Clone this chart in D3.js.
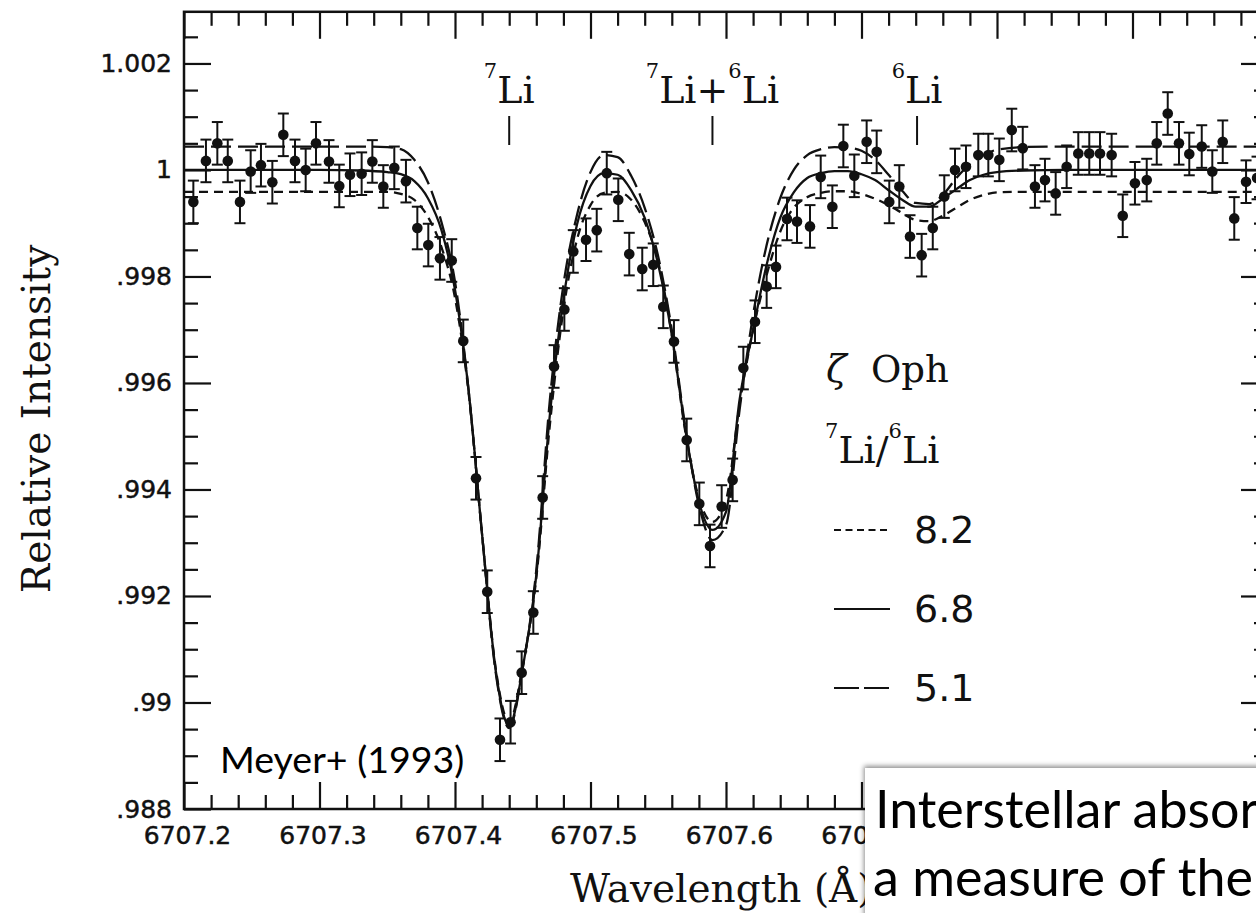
<!DOCTYPE html>
<html>
<head>
<meta charset="utf-8">
<script src="https://cdn.jsdelivr.net/npm/d3@7"></script>
<style>
  html, body { margin: 0; padding: 0; background: #fff; }
  svg { display: block; }
</style>
</head>
<body>
<svg id="chart" width="1256" height="913"></svg>
<script>
// ---- observed spectrum (zeta Oph, Li I 6708 region) ----
const obsWavelength = [
  6707.2069, 6707.2162, 6707.2246, 6707.2323, 6707.2413, 6707.2492, 6707.2568, 6707.2652,
  6707.2733, 6707.2819, 6707.2898, 6707.2974, 6707.3070, 6707.3146, 6707.3225, 6707.3311,
  6707.3390, 6707.3471, 6707.3552, 6707.3638, 6707.3722, 6707.3803, 6707.3889, 6707.3976,
  6707.4061, 6707.4155, 6707.4238, 6707.4332, 6707.4410, 6707.4492, 6707.4578, 6707.4647,
  6707.4731, 6707.4807, 6707.4873, 6707.4967, 6707.5046, 6707.5120, 6707.5205, 6707.5286,
  6707.5382, 6707.5463, 6707.5537, 6707.5616, 6707.5710, 6707.5803, 6707.5882, 6707.5968,
  6707.6049, 6707.6128, 6707.6214, 6707.6300, 6707.6369, 6707.6450, 6707.6524, 6707.6620,
  6707.6699, 6707.6785, 6707.6866, 6707.6947, 6707.7038, 6707.7112, 6707.7205, 6707.7279,
  6707.7358, 6707.7444, 6707.7526, 6707.7611, 6707.7690, 6707.7771, 6707.7862, 6707.7936,
  6707.8017, 6707.8109, 6707.8190, 6707.8280, 6707.8354, 6707.8433, 6707.8514, 6707.8600,
  6707.8681, 6707.8760, 6707.8846, 6707.8928, 6707.9018, 6707.9105, 6707.9179, 6707.9260,
  6707.9343, 6707.9419, 6707.9511, 6707.9589, 6707.9666, 6707.9751, 6707.9838, 6707.9919
];
const obsIntensity = [
  0.99940, 1.00017, 1.00050, 1.00017, 0.99940, 0.99997, 1.00009, 0.99977,
  1.00066, 1.00017, 1.00000, 1.00050, 1.00016, 0.99970, 0.99991, 0.99993,
  1.00016, 0.99969, 1.00004, 0.99979, 0.99891, 0.99859, 0.99834, 0.99830,
  0.99679, 0.99421, 0.99208, 0.98930, 0.98963, 0.99056, 0.99169, 0.99385,
  0.99631, 0.99738, 0.99847, 0.99869, 0.99887, 0.99994, 0.99944, 0.99842,
  0.99814, 0.99822, 0.99743, 0.99678, 0.99493, 0.99373, 0.99294, 0.99368,
  0.99418, 0.99628, 0.99715, 0.99781, 0.99818, 0.99908, 0.99903, 0.99894,
  0.99987, 0.99931, 1.00045, 0.99989, 1.00053, 1.00034, 0.99940, 0.99969,
  0.99875, 0.99840, 0.99891, 0.99950, 1.00000, 1.00006, 1.00028, 1.00028,
  1.00019, 1.00075, 1.00041, 0.99969, 0.99981, 0.99956, 1.00006, 1.00031,
  1.00031, 1.00031, 1.00028, 0.99914, 0.99975, 0.99981, 1.00050, 1.00106,
  1.00050, 1.00030, 1.00044, 0.99997, 1.00053, 0.99909, 0.99978, 0.99985
];
const obsError = [
  0.0004, 0.0004, 0.0004, 0.0004, 0.0004, 0.0004, 0.0004, 0.0004,
  0.0004, 0.0004, 0.0004, 0.0004, 0.0004, 0.0004, 0.0004, 0.0004,
  0.0004, 0.0004, 0.0004, 0.0004, 0.0004, 0.0004, 0.0004, 0.0004,
  0.0004, 0.0004, 0.0004, 0.0004, 0.0004, 0.0004, 0.0004, 0.0004,
  0.0004, 0.0004, 0.0004, 0.0004, 0.0004, 0.0004, 0.0004, 0.0004,
  0.0004, 0.0004, 0.0004, 0.0004, 0.0004, 0.0004, 0.0004, 0.0004,
  0.0004, 0.0004, 0.0004, 0.0004, 0.0004, 0.0004, 0.0004, 0.0004,
  0.0004, 0.0004, 0.0004, 0.0004, 0.0004, 0.0004, 0.0004, 0.0004,
  0.0004, 0.0004, 0.0004, 0.0004, 0.0004, 0.0004, 0.0004, 0.0004,
  0.0004, 0.0004, 0.0004, 0.0004, 0.0004, 0.0004, 0.0004, 0.0004,
  0.0004, 0.0004, 0.0004, 0.0004, 0.0004, 0.0004, 0.0004, 0.0004,
  0.0004, 0.0004, 0.0004, 0.0004, 0.0004, 0.0004, 0.0004, 0.0004
];

// ---- synthetic profiles for three 7Li/6Li ratios ----
const modelWavelength = [
  6707.20, 6707.25, 6707.30, 6707.33, 6707.35, 6707.36, 6707.37, 6707.38, 6707.39, 6707.40,
  6707.41, 6707.42, 6707.43, 6707.44, 6707.45, 6707.46, 6707.47, 6707.48, 6707.49, 6707.50,
  6707.51, 6707.52, 6707.53, 6707.54, 6707.55, 6707.56, 6707.57, 6707.58, 6707.59, 6707.60,
  6707.61, 6707.62, 6707.63, 6707.64, 6707.65, 6707.66, 6707.67, 6707.68, 6707.69, 6707.70,
  6707.71, 6707.72, 6707.73, 6707.74, 6707.75, 6707.76, 6707.77, 6707.78, 6707.79, 6707.80,
  6707.82, 6707.85, 6707.90, 6708.00
];
const ratio82 = [
  0.99959, 0.99959, 0.99959, 0.99959, 0.99959, 0.99955, 0.99944, 0.99912, 0.99855, 0.99760,
  0.99583, 0.99315, 0.99065, 0.98963, 0.99069, 0.99234, 0.99521, 0.99737, 0.99869, 0.99934,
  0.99957, 0.99959, 0.99944, 0.99902, 0.99827, 0.99690, 0.99508, 0.99384, 0.99339, 0.99380,
  0.99559, 0.99700, 0.99803, 0.99884, 0.99929, 0.99949, 0.99957, 0.99960, 0.99960, 0.99955,
  0.99946, 0.99934, 0.99919, 0.99906, 0.99904, 0.99914, 0.99929, 0.99944, 0.99953, 0.99958,
  0.99959, 0.99959, 0.99959, 0.99959
];
const ratio68 = [
  1.00000, 1.00000, 1.00000, 0.99999, 0.99996, 0.99992, 0.99979, 0.99947, 0.99887, 0.99775,
  0.99587, 0.99315, 0.99061, 0.98956, 0.99065, 0.99239, 0.99540, 0.99756, 0.99897, 0.99970,
  0.99994, 0.99991, 0.99962, 0.99910, 0.99822, 0.99690, 0.99512, 0.99377, 0.99324, 0.99358,
  0.99568, 0.99700, 0.99822, 0.99910, 0.99958, 0.99985, 0.99994, 0.99998, 0.99998, 0.99992,
  0.99981, 0.99962, 0.99944, 0.99931, 0.99931, 0.99946, 0.99964, 0.99981, 0.99991, 0.99996,
  0.99999, 1.00000, 1.00000, 1.00000
];
const ratio51 = [
  1.00044, 1.00044, 1.00044, 1.00044, 1.00043, 1.00039, 1.00019, 0.99977, 0.99902, 0.99790,
  0.99587, 0.99315, 0.99057, 0.98952, 0.99065, 0.99249, 0.99568, 0.99784, 0.99915, 0.99996,
  1.00028, 1.00024, 0.99989, 0.99929, 0.99837, 0.99700, 0.99516, 0.99371, 0.99305, 0.99333,
  0.99549, 0.99728, 0.99859, 0.99947, 1.00000, 1.00028, 1.00039, 1.00043, 1.00042, 1.00036,
  1.00019, 0.99991, 0.99961, 0.99938, 0.99936, 0.99953, 0.99985, 1.00011, 1.00028, 1.00038,
  1.00043, 1.00044, 1.00044, 1.00044
];
const modelLabels = ["8.2", "6.8", "5.1"];

// ---- line identifications ----
const lineWavelength = [6707.440, 6707.590, 6707.741];

// ---- axis ticks ----
const xMajorTicks = [6707.2, 6707.3, 6707.4, 6707.5, 6707.6, 6707.7, 6707.8, 6707.9, 6708.0];
const xTickLabelValues = [6707.2, 6707.3, 6707.4, 6707.5, 6707.6, 6707.7];
const yMajorTicks = [0.988, 0.990, 0.992, 0.994, 0.996, 0.998, 1.000, 1.002];
const yTickLabels = [".988", ".99", ".992", ".994", ".996", ".998", "1", "1.002"];

// ---- layout ----
const svg = d3.select("#chart");
const frame = { left: 184, right: 1268, top: 11.8, bottom: 809 };

const x = d3.scaleLinear().domain([6707.2, 6708.0]).range([frame.left, frame.right]);
const y = d3.scaleLinear().domain([0.988, 1.00297]).range([frame.bottom, frame.top]);

const xMinorTicks = d3.range(0, 41).map(i => 6707.2 + i * 0.02).filter(v => !xMajorTicks.some(m => Math.abs(m - v) < 1e-6));
const yMinorTicks = d3.range(0, 30).map(i => 0.988 + i * 0.0005).filter(v => v <= 1.00297 && !yMajorTicks.some(m => Math.abs(m - v) < 1e-7));

const ink = "#111";
const sans = "'DejaVu Sans', sans-serif";
const serif = "'DejaVu Serif', serif";

function tickAxis(axis, g) {
  g.call(axis);
  g.select(".domain").remove();
  g.selectAll(".tick line").attr("stroke", ink).attr("stroke-width", 2.2);
  g.selectAll(".tick text").remove();
}

// inward ticks on all four sides
const axes = svg.append("g");
[[d3.axisTop, frame.bottom], [d3.axisBottom, frame.top]].forEach(([gen, ty]) => {
  tickAxis(gen(x).tickValues(xMajorTicks).tickSize(27).tickFormat(""),
    axes.append("g").attr("transform", `translate(0,${ty})`));
  tickAxis(gen(x).tickValues(xMinorTicks).tickSize(14).tickFormat(""),
    axes.append("g").attr("transform", `translate(0,${ty})`));
});
[[d3.axisRight, frame.left], [d3.axisLeft, frame.right]].forEach(([gen, tx]) => {
  tickAxis(gen(y).tickValues(yMajorTicks).tickSize(27).tickFormat(""),
    axes.append("g").attr("transform", `translate(${tx},0)`));
  tickAxis(gen(y).tickValues(yMinorTicks).tickSize(14).tickFormat(""),
    axes.append("g").attr("transform", `translate(${tx},0)`));
});

// tick labels
const xLab = svg.append("g").attr("transform", `translate(0,${frame.bottom})`)
  .call(d3.axisBottom(x).tickValues(xTickLabelValues).tickSize(0).tickPadding(17).tickFormat(d3.format(".1f")));
xLab.select(".domain").remove();
xLab.selectAll("text").attr("font-family", sans).attr("font-size", 25).attr("fill", ink)
  .attr("stroke", ink).attr("stroke-width", 0.5).attr("dx", 3);

const yLab = svg.append("g").attr("transform", `translate(${frame.left},0)`)
  .call(d3.axisLeft(y).tickValues(yMajorTicks).tickSize(0).tickPadding(12)
    .tickFormat((d, i) => yTickLabels[i]));
yLab.select(".domain").remove();
yLab.selectAll("text").attr("font-family", sans).attr("font-size", 25).attr("fill", ink)
  .attr("stroke", ink).attr("stroke-width", 0.5);

// frame
svg.append("rect")
  .attr("x", frame.left).attr("y", frame.top)
  .attr("width", frame.right - frame.left).attr("height", frame.bottom - frame.top)
  .attr("fill", "none").attr("stroke", ink).attr("stroke-width", 2.5);

// axis titles
svg.append("text")
  .attr("transform", "translate(50,419) rotate(-90)")
  .attr("text-anchor", "middle")
  .attr("font-family", serif).attr("font-size", 39).attr("fill", ink)
  .text("Relative Intensity");
svg.append("text")
  .attr("x", 570).attr("y", 902)
  .attr("font-family", serif).attr("font-size", 39).attr("fill", ink)
  .text("Wavelength (Å)");

// model curves
const styles = [
  { values: ratio82, dash: "9,6" },
  { values: ratio68, dash: null },
  { values: ratio51, dash: "20,7" }
];
const line = d3.line().x(d => x(d[0])).y(d => y(d[1])).curve(d3.curveMonotoneX);
styles.forEach(s => {
  svg.append("path")
    .datum(modelWavelength.map((w, i) => [w, s.values[i]]))
    .attr("d", line)
    .attr("fill", "none").attr("stroke", ink).attr("stroke-width", 2.3)
    .attr("stroke-dasharray", s.dash);
});

// observed points with error bars
const obs = obsWavelength.map((w, i) => ({ w, v: obsIntensity[i], e: obsError[i] }));
const pts = svg.append("g");
const bars = pts.selectAll("g.bar").data(obs).join("g").attr("class", "bar");
bars.append("line")
  .attr("x1", d => x(d.w)).attr("x2", d => x(d.w))
  .attr("y1", d => y(d.v - d.e)).attr("y2", d => y(d.v + d.e))
  .attr("stroke", ink).attr("stroke-width", 2);
[-1, 1].forEach(sg => {
  bars.append("line")
    .attr("x1", d => x(d.w) - 5.5).attr("x2", d => x(d.w) + 5.5)
    .attr("y1", d => y(d.v + sg * d.e)).attr("y2", d => y(d.v + sg * d.e))
    .attr("stroke", ink).attr("stroke-width", 2);
});
bars.append("circle")
  .attr("cx", d => x(d.w)).attr("cy", d => y(d.v)).attr("r", 5.3)
  .attr("fill", ink);

// line identifications
const idLabels = [
  [["7", true], ["Li", false]],
  [["7", true], ["Li+", false], ["6", true], ["Li", false]],
  [["6", true], ["Li", false]]
];
lineWavelength.forEach((w, i) => {
  svg.append("line")
    .attr("x1", x(w)).attr("x2", x(w)).attr("y1", 116).attr("y2", 145)
    .attr("stroke", ink).attr("stroke-width", 2);
  const t = svg.append("text").attr("x", x(w)).attr("y", 103)
    .attr("text-anchor", "middle").attr("font-family", serif).attr("fill", ink);
  let raised = false;
  idLabels[i].forEach(([s, sup]) => {
    const dy = sup && !raised ? -25 : (!sup && raised ? 25 : 0);
    raised = sup;
    t.append("tspan").attr("dy", dy).attr("font-size", sup ? 21 : 38).text(s);
  });
});

// legend
const leg = svg.append("g");
leg.append("text").attr("x", 826).attr("y", 382).attr("fill", ink)
  .call(t => {
    t.append("tspan").attr("font-family", serif).attr("font-style", "italic").attr("font-size", 38).text("ζ");
    t.append("tspan").attr("x", 871).attr("font-family", serif).attr("font-size", 37).text("Oph");
  });
leg.append("text").attr("x", 825).attr("y", 463).attr("fill", ink).attr("font-family", serif)
  .call(t => {
    t.append("tspan").attr("font-size", 21).attr("dy", -25).text("7");
    t.append("tspan").attr("font-size", 38).attr("dy", 25).text("Li/");
    t.append("tspan").attr("font-size", 21).attr("dy", -25).text("6");
    t.append("tspan").attr("font-size", 38).attr("dy", 25).text("Li");
  });
const legendDash = ["7,4.5", null, "25,5"];
const legendRowY = [530, 609, 688];
modelLabels.forEach((lab, i) => {
  leg.append("line")
    .attr("x1", 834).attr("x2", 890).attr("y1", legendRowY[i]).attr("y2", legendRowY[i])
    .attr("stroke", ink).attr("stroke-width", 2).attr("stroke-dasharray", legendDash[i]);
  leg.append("text").attr("x", 914).attr("y", legendRowY[i] + 13)
    .attr("font-family", sans).attr("font-size", 38).attr("fill", ink)
    .text(lab);
});

// citation
svg.append("text").attr("x", 220).attr("y", 773)
  .attr("font-family", "Lato, sans-serif").attr("font-size", 37.5).attr("fill", "#000")
  .text("Meyer+ (1993)");

// caption panel
const defs = svg.append("defs");
const f = defs.append("filter").attr("id", "panelShadow")
  .attr("x", "-10%").attr("y", "-10%").attr("width", "120%").attr("height", "120%");
f.append("feDropShadow").attr("dx", -1).attr("dy", -2).attr("stdDeviation", 2.5)
  .attr("flood-color", "#000").attr("flood-opacity", 0.45);
svg.append("rect").attr("x", 865).attr("y", 768).attr("width", 420).attr("height", 170)
  .attr("fill", "#fff").attr("filter", "url(#panelShadow)");
const cap = svg.append("text").attr("font-family", "Lato, sans-serif").attr("font-size", 52).attr("fill", "#000");
cap.append("tspan").attr("x", 875).attr("y", 828).text("Interstellar absorption");
cap.append("tspan").attr("x", 873).attr("y", 896).text("a measure of the");
</script>
</body>
</html>
